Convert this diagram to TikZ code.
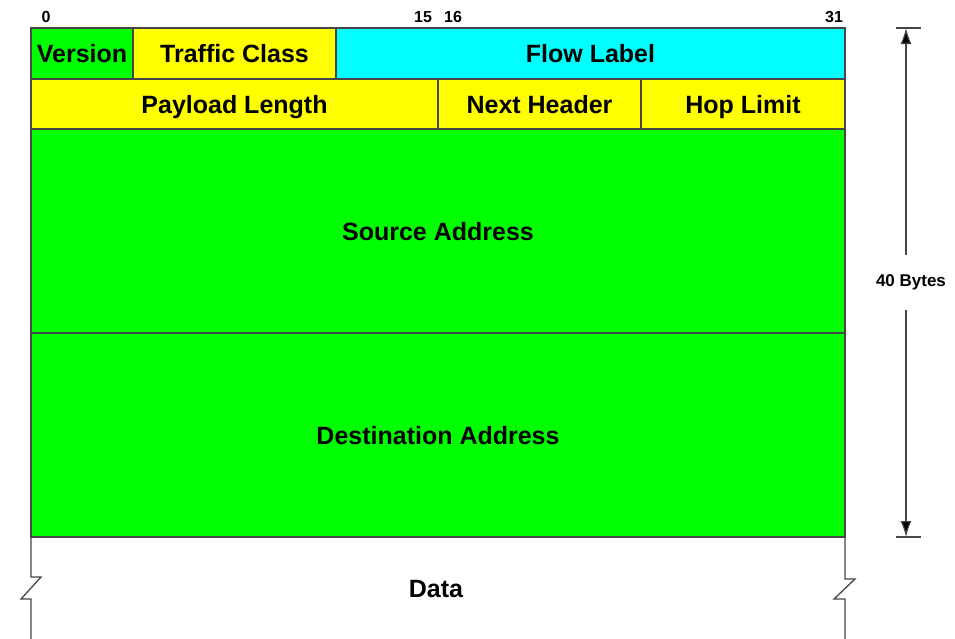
\documentclass[tikz,border=0pt]{standalone}
\usepackage{fontspec}
\setmainfont{Liberation Sans}
\usetikzlibrary{arrows.meta}
\definecolor{fgreen}{RGB}{0,255,0}
\definecolor{fyellow}{RGB}{255,255,0}
\definecolor{fcyan}{RGB}{0,255,255}
\definecolor{rule}{RGB}{70,70,70}
\begin{document}
\begin{tikzpicture}[x=1pt,y=-1pt,
  cell/.style={draw=rule, line width=1.3pt, rectangle, anchor=north west,
    inner sep=0pt, outer sep=0pt, text height=18pt, text depth=0pt,
    font=\fontsize{25}{27}\selectfont\bfseries},
  bitno/.style={font=\fontsize{16}{18}\selectfont\bfseries, inner sep=0pt},
  edge/.style={draw=rule, line width=1.3pt},
  dim/.style={draw=rule, line width=1.2pt,
    -{Latex[length=16pt,width=11pt,fill=black]}}]
\useasboundingbox (0,0) rectangle (955,638);
% bit numbers
\node[bitno] (b0) at (46,17) {0};
\node[bitno] (b15) at (423,17) {15};
\node[bitno] (b16) at (453,17) {16};
\node[bitno] (b31) at (834,17) {31};
% first 32-bit word
\node[cell, fill=fgreen, minimum width=102pt, minimum height=51pt] (ver) at (31,28) {Version};
\node[cell, fill=fyellow, minimum width=203pt, minimum height=51pt] (tc) at (133,28) {Traffic Class};
\node[cell, fill=fcyan, minimum width=509pt, minimum height=51pt] (fl) at (336,28) {Flow Label};
% second word
\node[cell, fill=fyellow, minimum width=407pt, minimum height=50pt] (pl) at (31,79) {Payload Length};
\node[cell, fill=fyellow, minimum width=203pt, minimum height=50pt] (nh) at (438,79) {Next Header};
\node[cell, fill=fyellow, minimum width=204pt, minimum height=50pt] (hl) at (641,79) {Hop Limit};
% addresses
\node[cell, fill=fgreen, minimum width=814pt, minimum height=204pt] (src) at (31,129) {Source Address};
\node[cell, fill=fgreen, minimum width=814pt, minimum height=204pt] (dst) at (31,333) {Destination Address};
% payload, open at the bottom
\node[font=\fontsize{25}{27}\selectfont\bfseries, inner sep=0pt, text height=18pt, text depth=0pt] (data) at (436,588) {Data};
\draw[edge] (dst.south west) -- (31,577) -- (41,577) -- (21,599) -- (31,599) -- (31,640);
\draw[edge] (dst.south east) -- (845,579) -- (855,579) -- (834,599) -- (845,599) -- (845,640);
% header length marker
\coordinate (topbar) at (906,28);
\coordinate (botbar) at (906,537);
\draw[edge] (896,28) -- (921,28);
\draw[edge] (896,537) -- (921,537);
\node[font=\fontsize{17}{19}\selectfont\bfseries, inner sep=0pt] (len) at (911,282) {40 Bytes};
\draw[dim] (906,255) -- (topbar);
\draw[dim] (906,310) -- (botbar);
\end{tikzpicture}
\end{document}
